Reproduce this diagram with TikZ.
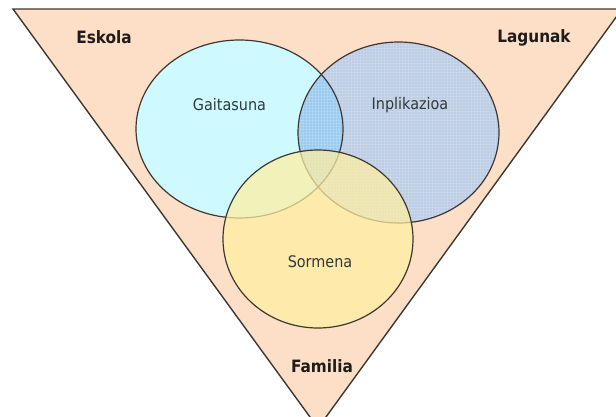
\documentclass[tikz,border=0pt]{standalone}
\usepackage{fontspec}
\setmainfont{DejaVu Sans Condensed}
\usepackage{xcolor}
\usetikzlibrary{patterns}
\definecolor{peach}{RGB}{253,222,199}
\definecolor{gaitcol}{RGB}{206,250,255}
\definecolor{inplcol}{RGB}{189,205,229}
\definecolor{bothcol}{RGB}{156,203,240}
\definecolor{sormcol}{RGB}{255,239,160}
\definecolor{edgegray}{RGB}{62,56,50}
\definecolor{textdark}{RGB}{30,28,26}
\definecolor{textsoft}{RGB}{50,57,60}

\begin{document}
\begin{tikzpicture}[x=1pt, y=-1pt,
  edge/.style={draw=edgegray, line width=1.4pt},
  ring/.style={draw=edgegray, line width=1.2pt},
  field/.style={font=\fontsize{17}{19}\selectfont\bfseries, text=textdark, inner sep=1pt},
  area/.style={font=\fontsize{16}{18}\selectfont, text=textsoft, inner sep=1pt}
]
\useasboundingbox (0,0) rectangle (616,417);
\clip (0,0) rectangle (616,417);

% centres of the three sets
\coordinate (gc) at (239.5,129);
\coordinate (ic) at (398.5,132.5);
\coordinate (sc) at (318,239);

% funnel
\draw[edge, fill=peach] (13,9) -- (622,9) -- (318,428) -- cycle;

% Gaitasuna and Inplikazioa
\fill[gaitcol] (gc) ellipse [x radius=103.5pt, y radius=89pt];
\fill[inplcol] (ic) ellipse [x radius=100.5pt, y radius=90.5pt];
\begin{scope}
  \clip (gc) ellipse [x radius=103.5pt, y radius=89pt];
  \fill[bothcol] (ic) ellipse [x radius=100.5pt, y radius=90.5pt];
\end{scope}
\fill[pattern=grid, pattern color=white, opacity=0.15] (ic) ellipse [x radius=100.5pt, y radius=90.5pt];
\draw[ring] (gc) ellipse [x radius=103.5pt, y radius=89pt];
\draw[ring] (ic) ellipse [x radius=100.5pt, y radius=90.5pt];

% Sormena on top
\draw[ring, fill=sormcol, fill opacity=0.72] (sc) ellipse [x radius=95pt, y radius=89pt];

\node[field] (eskola) at (104,37) {Eskola};
\node[field] (lagunak) at (534,38) {Lagunak};
\node[field] (familia) at (322,366) {Familia};

\node[area] (gait) at (229.5,105) {Gaitasuna};
\node[area] (inpl) at (410,105) {Inplikazioa};
\node[area] (sorm) at (320,262) {Sormena};
\end{tikzpicture}
\end{document}
